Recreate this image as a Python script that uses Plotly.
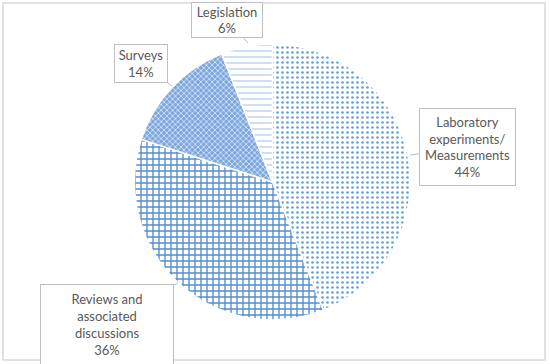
import plotly.graph_objects as go

W, H = 550, 364

categories = ["Laboratory<br>experiments/<br>Measurements", "Reviews and<br>associated<br>discussions", "Surveys", "Legislation"]
values = [44, 36, 14, 6]
pct_labels = ["44%", "36%", "14%", "6%"]

pattern_shapes = [".", "+", "x", "-"]
fg_colors = ["#5B9BD5", "#4A86D0", "#FFFFFF", "#A9C8EA"]
bg_colors = ["#FFFFFF", "#FFFFFF", "#7DA7DF", "#FFFFFF"]
pattern_sizes = [5, 6, 4, 6]
pattern_solidity = [0.22, 0.4, 0.3, 0.2]

# label callout layout (pixels): tip point, box center, box size
tips = [(410, 155), (178, 283), (172, 86), (248, 43)]
boxes = [(467.5, 147, 95, 76), (107, 324.5, 132, 79), (141, 63.5, 52, 37), (227, 20, 70, 34)]

cx, cy, r = 272.5, 182, 138

fig = go.Figure()
fig.add_trace(go.Pie(
    labels=[c.replace("<br>", " ") for c in categories],
    values=values,
    sort=False,
    direction="clockwise",
    rotation=0,
    textinfo="none",
    hoverinfo="label+percent",
    marker=dict(
        colors=bg_colors,
        line=dict(color="#FFFFFF", width=1.5),
        pattern=dict(
            shape=pattern_shapes,
            fgcolor=fg_colors,
            bgcolor=bg_colors,
            size=pattern_sizes,
            solidity=pattern_solidity,
            fillmode="overlay",
            fgopacity=0.95,
        ),
    ),
    domain=dict(x=[(cx - r) / W, (cx + r) / W], y=[(H - cy - r) / H, (H - cy + r) / H]),
    showlegend=False,
))

annotations = []
for cat, pct, (tx, ty), (bx, by, bw, bh) in zip(categories, pct_labels, tips, boxes):
    annotations.append(dict(
        x=tx / W, y=1 - ty / H, xref="paper", yref="paper",
        text=f"{cat}<br>{pct}",
        showarrow=True, arrowhead=0, arrowwidth=1, arrowcolor="#BFBFBF", standoff=0,
        ax=bx - tx, ay=by - ty,
        width=bw, height=bh, borderpad=0,
        bordercolor="#BFBFBF", borderwidth=1, bgcolor="#FFFFFF",
        font=dict(family="Lato, Carlito, Calibri, sans-serif", size=13, color="#595959"),
        align="center", valign="middle",
    ))

fig.update_layout(
    width=W, height=H,
    margin=dict(l=0, r=0, t=0, b=0),
    paper_bgcolor="#FFFFFF",
    plot_bgcolor="#FFFFFF",
    annotations=annotations,
    shapes=[dict(type="rect", xref="paper", yref="paper",
                 x0=3 / W, x1=545 / W, y0=1 - 360 / H, y1=1 - 3 / H,
                 line=dict(color="#D9D9D9", width=1.5), fillcolor="rgba(0,0,0,0)", layer="below")],
)

fig.write_html("out.html", config={"displayModeBar": False},
               post_script="document.body.style.margin='0';document.body.style.overflow='hidden';")
